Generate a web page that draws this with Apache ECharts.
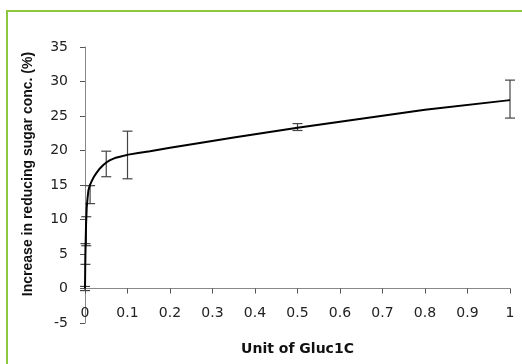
<!DOCTYPE html>
<html>
<head>
<meta charset="utf-8">
<script src="https://cdn.jsdelivr.net/npm/echarts@6/dist/echarts.min.js"></script>
<style>
html, body { margin: 0; padding: 0; background: #fff; overflow: hidden; }
#chart-container { width: 522px; height: 364px; }
</style>
</head>
<body>
<div id="chart-container"></div>
<script>
// measured points (lower and upper ends of the error bars)
var pointX = [0, 0.001, 0.003, 0.012, 0.05, 0.1, 0.5, 1];
var pointLow = [-0.3, 3.5, 6.2, 12.3, 16.2, 15.9, 22.9, 24.7];
var pointHigh = [0.3, 6.5, 10.4, 14.9, 19.9, 22.8, 23.9, 30.2];

// fitted curve
var curveX = [0, 0.0005, 0.001, 0.0016, 0.0025, 0.004, 0.006, 0.008, 0.011, 0.016, 0.021, 0.0275, 0.035, 0.043, 0.051, 0.059, 0.07, 0.082, 0.102, 0.125, 0.153, 0.2, 0.27, 0.35, 0.5, 0.65, 0.8, 1];
var curveY = [0, 3.0, 5.0, 6.9, 9.3, 11.7, 13.1, 14.2, 14.9, 15.6, 16.2, 16.8, 17.4, 17.9, 18.3, 18.6, 18.9, 19.1, 19.4, 19.65, 19.9, 20.4, 21.1, 21.9, 23.3, 24.6, 25.9, 27.3];

var xTickLabels = ['0', '0.1', '0.2', '0.3', '0.4', '0.5', '0.6', '0.7', '0.8', '0.9', '1'];
var yTickLabels = ['-5', '0', '5', '10', '15', '20', '25', '30', '35'];

var dom = document.getElementById("chart-container");
var myChart = echarts.init(dom, null, { renderer: "canvas" });

var curveData = curveX.map(function (x, i) { return [x, curveY[i]]; });
var barData = pointX.map(function (x, i) { return [x, pointLow[i], pointHigh[i]]; });

var gridTop = 47, gridBottom = 41;
// x axis sits on y = 0, one 5-unit step above the bottom (-5)
var stepPx = (364 - gridTop - gridBottom) / 8;

var option = {
    animation: false,
    // green frame of the figure, only top and left edges are in view
    graphic: [{
        type: "polyline",
        silent: true,
        shape: { points: [[7, 370], [7, 11], [530, 11]] },
        style: { stroke: "#8dc63f", lineWidth: 2, fill: null }
    }],
    grid: { left: 85, right: 12, top: gridTop, bottom: gridBottom, outerBoundsMode: "none", containLabel: false },
    xAxis: {
        type: "value",
        min: 0,
        max: 1,
        interval: 0.1,
        offset: -stepPx,
        name: "Unit of Gluc1C",
        nameLocation: "middle",
        nameGap: 54,
        nameTextStyle: { fontFamily: "DejaVu Sans", fontWeight: "bold", fontSize: 14, color: "#111" },
        axisLine: { show: true, onZero: false, lineStyle: { color: "#888", width: 1 } },
        axisTick: { show: true, length: 5, lineStyle: { color: "#555" } },
        splitLine: { show: false },
        axisLabel: {
            margin: 18,
            fontFamily: "DejaVu Sans",
            fontSize: 14,
            color: "#222",
            formatter: function (v, i) { return xTickLabels[i]; }
        }
    },
    yAxis: {
        type: "value",
        min: -5,
        max: 35,
        interval: 5,
        name: "Increase in reducing sugar conc. (%)",
        nameLocation: "middle",
        nameGap: 50,
        nameTextStyle: {
            fontFamily: "Liberation Sans", fontWeight: "bold", fontSize: 14, color: "#111",
            padding: [0, 0, 0, 22]
        },
        axisLine: { show: true, onZero: false, lineStyle: { color: "#888", width: 1 } },
        axisTick: { show: true, length: 5, lineStyle: { color: "#555" } },
        splitLine: { show: false },
        axisLabel: {
            margin: 17,
            fontFamily: "DejaVu Sans",
            fontSize: 14,
            color: "#222",
            formatter: function (v, i) { return yTickLabels[i]; }
        }
    },
    series: [
        {
            type: "line",
            data: curveData,
            showSymbol: false,
            smooth: false,
            lineStyle: { color: "#000", width: 2 },
            z: 3
        },
        {
            type: "custom",
            data: barData,
            renderItem: function (params, api) {
                var x = api.value(0);
                var lo = api.coord([x, api.value(1)]);
                var hi = api.coord([x, api.value(2)]);
                var w = 5;
                var style = { stroke: "#444", lineWidth: 1.2 };
                return {
                    type: "group",
                    children: [
                        { type: "line", shape: { x1: lo[0], y1: lo[1], x2: hi[0], y2: hi[1] }, style: style },
                        { type: "line", shape: { x1: lo[0] - w, y1: lo[1], x2: lo[0] + w, y2: lo[1] }, style: style },
                        { type: "line", shape: { x1: hi[0] - w, y1: hi[1], x2: hi[0] + w, y2: hi[1] }, style: style }
                    ]
                };
            },
            z: 2
        }
    ]
};

if (option && typeof option === "object") {
    myChart.setOption(option);
}
window.addEventListener("resize", myChart.resize);
</script>
</body>
</html>
